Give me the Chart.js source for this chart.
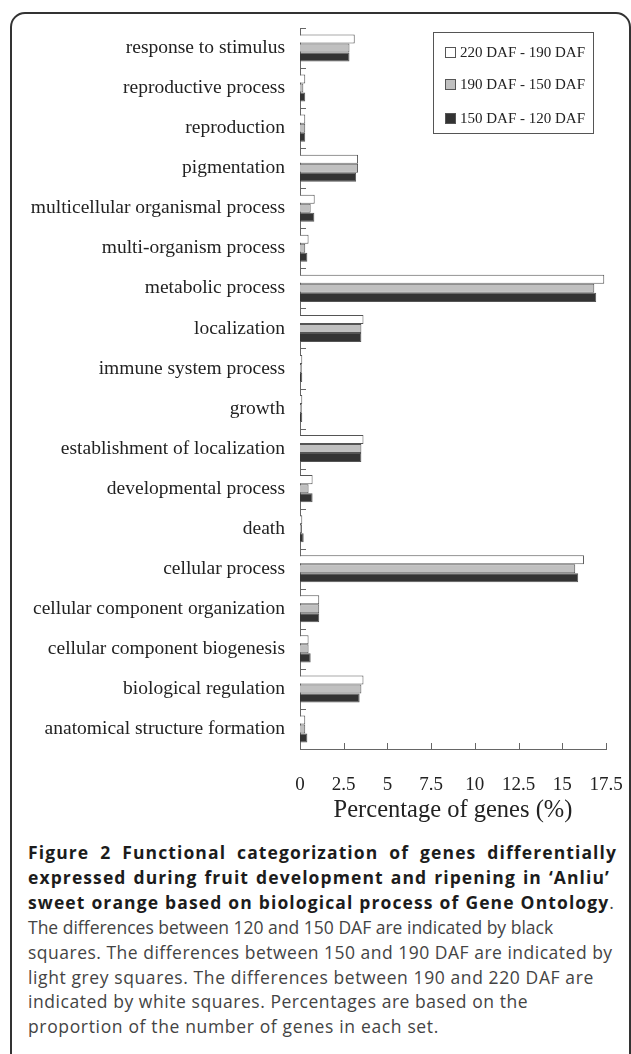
<!DOCTYPE html>
<html>
<head>
<meta charset="utf-8">
<script src="https://cdn.jsdelivr.net/npm/chart.js@4/dist/chart.umd.min.js"></script>
<style>
  body { margin: 0; background: #fff; }
  #page { position: relative; width: 631px; height: 1054px; overflow: hidden; }
  #frame { position: absolute; left: 10px; top: 12px; width: 617px; height: 1100px;
           border: 2px solid #333; border-radius: 15px 15px 0 0; }
  #chartBox { position: absolute; left: 0; top: 0; width: 631px; height: 830px; }
  #legendBox { position: absolute; left: 433px; top: 32px; width: 159px; height: 100px;
               border: 1px solid #555; font-family: "Liberation Serif", serif; font-size: 15px; color: #222; }
  .legItem { position: absolute; left: 11px; height: 18px; line-height: 18px; white-space: nowrap; }
  .legItem span { display: inline-block; width: 9px; height: 9px; border: 1px solid #555;
                  margin-right: 4px; vertical-align: -1px; }
  #caption { position: absolute; left: 28px; top: 840px; width: 600px; white-space: nowrap;
             font-family: "Open Sans", sans-serif; font-size: 17.5px; line-height: 24.9px; color: #444;
             letter-spacing: 0.5px; }
  #caption .bl { font-weight: 700; color: #1c1c1c; letter-spacing: 1.1px; text-align: justify;
                 text-align-last: justify; white-space: normal; }
  #caption .bl i { font-style: normal; font-weight: 400; color: #444; }
</style>
</head>
<body>
<div id="page">
  <div id="frame"></div>
  <div id="chartBox"><canvas id="goChartCanvas" width="631" height="830"></canvas></div>
  <div id="legendBox"></div>
  <div id="caption">
    <div class="bl" style="width:589px">Figure 2 Functional categorization of genes differentially</div>
    <div class="bl" style="width:582px">expressed during fruit development and ripening in ‘Anliu’</div>
    <div class="bl" style="width:587px">sweet orange based on biological process of Gene Ontology<i>.</i></div>
    <div style="letter-spacing:0px">The differences between 120 and 150 DAF are indicated by black</div>
    <div>squares. The differences between 150 and 190 DAF are indicated by</div>
    <div style="letter-spacing:0.6px">light grey squares. The differences between 190 and 220 DAF are</div>
    <div style="letter-spacing:0.55px">indicated by white squares. Percentages are based on the</div>
    <div style="letter-spacing:0.65px">proportion of the number of genes in each set.</div>
  </div>
</div>
<script>
const categories = ['response to stimulus', 'reproductive process', 'reproduction', 'pigmentation',
    'multicellular organismal process', 'multi-organism process', 'metabolic process', 'localization',
    'immune system process', 'growth', 'establishment of localization', 'developmental process',
    'death', 'cellular process', 'cellular component organization', 'cellular component biogenesis',
    'biological regulation', 'anatomical structure formation'];

const seriesLabels = ['220 DAF - 190 DAF', '190 DAF - 150 DAF', '150 DAF - 120 DAF'];
const seriesColors = ['#FFFFFF', '#C0C0C0', '#333333'];

const values220to190 = [3.13, 0.3, 0.3, 3.32, 0.84, 0.49, 17.4, 3.63, 0.13, 0.13, 3.63, 0.72, 0.13, 16.24, 1.1, 0.49, 3.63, 0.3];
const values190to150 = [2.83, 0.19, 0.3, 3.32, 0.61, 0.3, 16.83, 3.51, 0.1, 0.1, 3.51, 0.49, 0.11, 15.74, 1.1, 0.49, 3.51, 0.3];
const values150to120 = [2.83, 0.3, 0.3, 3.21, 0.82, 0.42, 16.94, 3.51, 0.13, 0.13, 3.51, 0.72, 0.21, 15.91, 1.1, 0.61, 3.41, 0.42];

const xTickValues = [0, 2.5, 5, 7.5, 10, 12.5, 15, 17.5];
const xTitle = 'Percentage of genes (%)';

const serifFont = 'Liberation Serif';
const axisColor = '#666';

// legend in html
const legendBox = document.getElementById('legendBox');
const legendTops = [10, 42, 76];
seriesLabels.forEach((label, i) => {
    const item = document.createElement('div');
    item.className = 'legItem';
    item.style.top = legendTops[i] + 'px';
    item.innerHTML = '<span style="background:' + seriesColors[i] + '"></span>' + label;
    legendBox.appendChild(item);
});

// small tick marks pointing into the plot, like the original
const innerTicks = {
    id: 'innerTicks',
    afterDraw(chart) {
        const ctx = chart.ctx;
        const xs = chart.scales.x;
        const ys = chart.scales.y;
        const step = (ys.bottom - ys.top) / categories.length;
        ctx.save();
        ctx.strokeStyle = axisColor;
        ctx.lineWidth = 1;
        ctx.beginPath();
        for (let i = 0; i <= categories.length; i++) {
            const y = Math.round(ys.top + i * step) + 0.5;
            ctx.moveTo(xs.left, y);
            ctx.lineTo(xs.left + 6, y);
        }
        xTickValues.forEach(v => {
            const x = Math.round(xs.getPixelForValue(v)) + 0.5;
            ctx.moveTo(x, ys.bottom);
            ctx.lineTo(x, ys.bottom - 6);
        });
        ctx.stroke();
        ctx.restore();
    }
};

const datasets = [values220to190, values190to150, values150to120].map((vals, i) => ({
    label: seriesLabels[i],
    data: vals,
    backgroundColor: seriesColors[i],
    borderColor: '#555',
    borderWidth: 1,
    barPercentage: 1,
    categoryPercentage: 0.675
}));

const goChart = new Chart(document.getElementById('goChartCanvas'), {
    type: 'bar',
    data: { labels: categories, datasets: datasets },
    options: {
        indexAxis: 'y',
        responsive: false,
        animation: false,
        layout: { padding: { left: 0, top: 28, right: 25, bottom: 0 } },
        plugins: {
            legend: { display: false },
            tooltip: { enabled: false }
        },
        scales: {
            y: {
                grid: { display: false, drawTicks: false },
                border: { display: true, color: axisColor, width: 1 },
                ticks: {
                    color: '#222',
                    padding: 15,
                    font: { family: serifFont, size: 19.5 }
                },
                afterFit(scale) { scale.width = 300; }
            },
            x: {
                min: 0,
                max: 17.5,
                grid: { display: false, drawTicks: false },
                border: { display: true, color: axisColor, width: 1 },
                afterBuildTicks(scale) { scale.ticks = xTickValues.map(v => ({ value: v })); },
                ticks: {
                    color: '#222',
                    padding: 25,
                    font: { family: serifFont, size: 19 }
                },
                title: {
                    display: true,
                    text: xTitle,
                    color: '#222',
                    padding: { top: 0, bottom: 5 },
                    font: { family: serifFont, size: 24.5 }
                },
                afterFit(scale) {
                    scale.height = 81;
                    scale.paddingLeft = 0;
                    scale.paddingRight = 0;
                }
            }
        }
    },
    plugins: [innerTicks]
});
</script>
</body>
</html>
